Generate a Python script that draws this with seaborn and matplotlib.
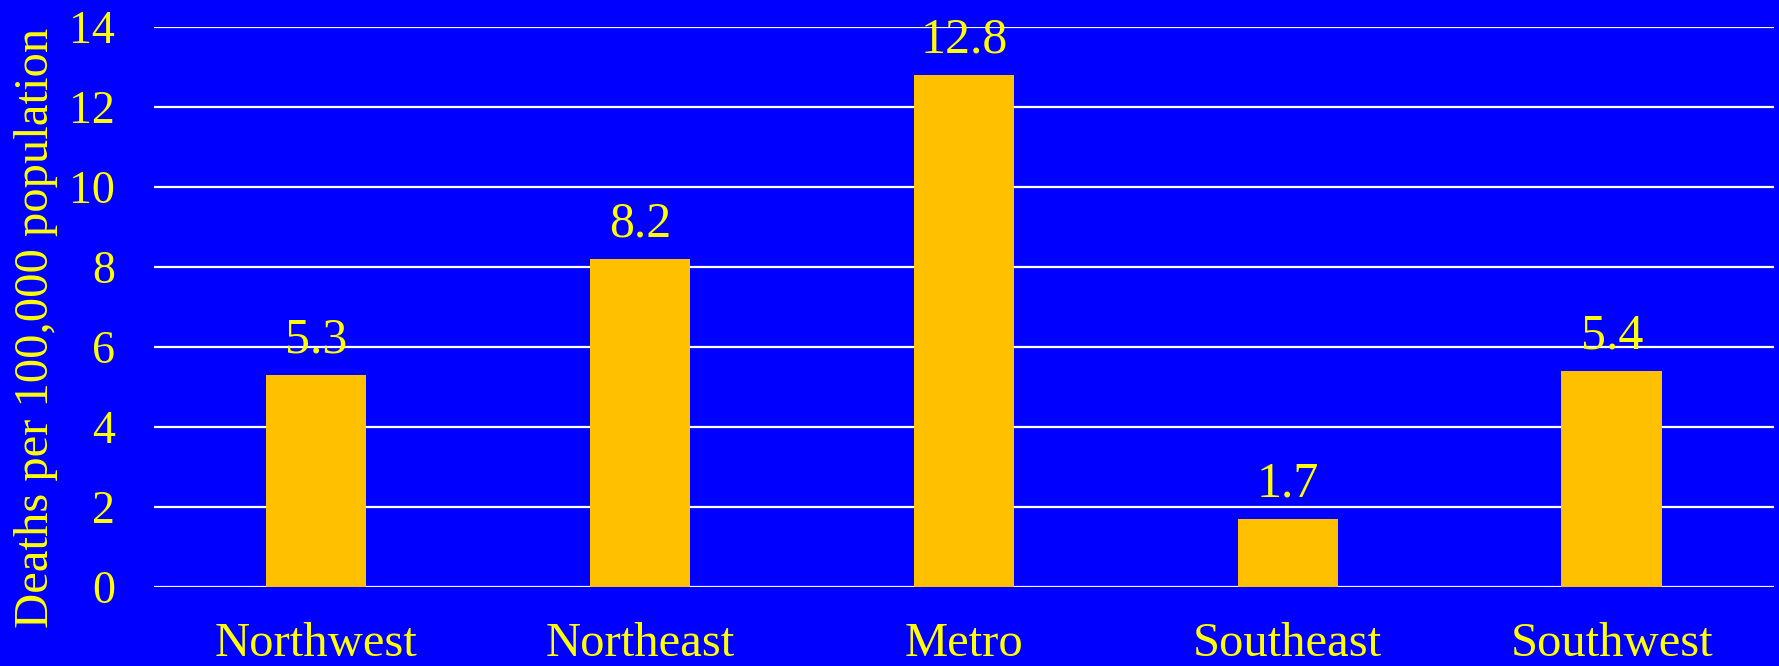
import pandas as pd
import matplotlib
matplotlib.use('Agg')
import matplotlib.pyplot as plt
import seaborn as sns

# data
regions = ['Northwest', 'Northeast', 'Metro', 'Southeast', 'Southwest']
deaths = [5.3, 8.2, 12.8, 1.7, 5.4]
y_ticks = [0, 2, 4, 6, 8, 10, 12, 14]

df = pd.DataFrame({'region': regions, 'deaths': deaths})

sns.set_style('white')
plt.rcParams['font.family'] = ['Liberation Serif', 'DejaVu Serif']

blue = '#0000FF'
yellow = '#FFFF00'
bar_col = '#FFC000'

fig = plt.figure(figsize=(17.79, 6.66), dpi=100, facecolor=blue)
ax = fig.add_axes([0.0866, 0.1186, 0.9104, 0.8409])
ax.set_facecolor(blue)

sns.barplot(x='region', y='deaths', data=df, color=bar_col, width=0.31,
            saturation=1, linewidth=0, ax=ax)

ax.set_ylim(0, 14)
ax.set_yticks(y_ticks)
ax.yaxis.grid(True, color='white', linewidth=1.6)
ax.set_axisbelow(True)
for s in ax.spines.values():
    s.set_visible(False)

ax.tick_params(axis='y', length=0, pad=28, labelsize=33, labelcolor=yellow)
ax.tick_params(axis='x', length=0, pad=25, labelsize=35, labelcolor=yellow)
ax.set_xlabel('')
ax.set_ylabel('')
# y title sits a little below the axes centre in the reference
fig.text(0.02, 0.508, 'Deaths per 100,000 population', rotation=90,
         ha='center', va='center', fontsize=35, color=yellow)

# value labels
for i, v in enumerate(deaths):
    ax.annotate(f'{v:.1f}', (i, v), xytext=(0, 16), textcoords='offset points',
                ha='center', va='baseline', fontsize=36, color=yellow)

plt.savefig('out.png', dpi=100, facecolor=blue)
